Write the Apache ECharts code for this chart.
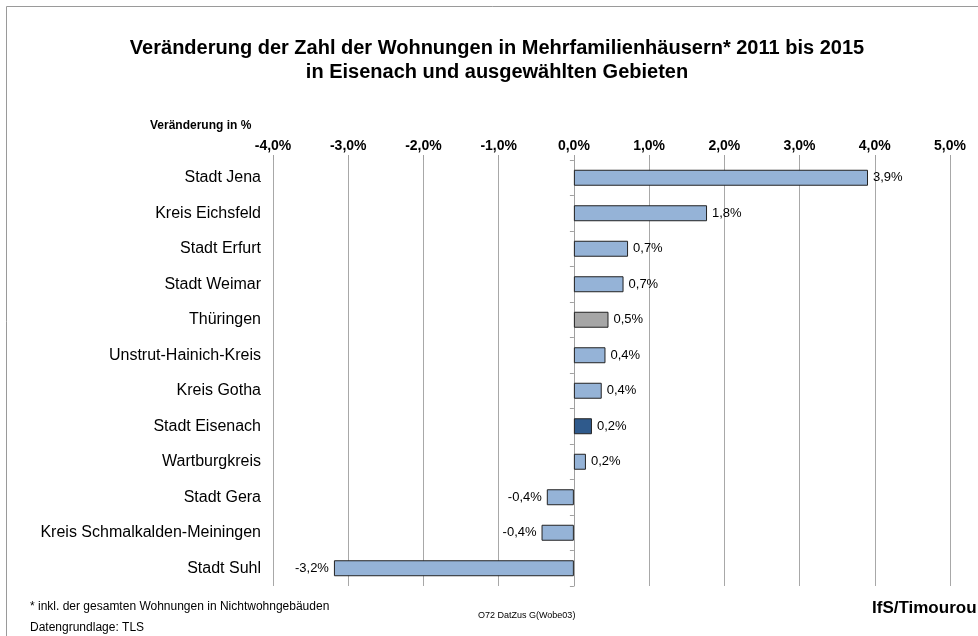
<!DOCTYPE html>
<html>
<head>
<meta charset="utf-8">
<script src="https://cdn.jsdelivr.net/npm/echarts@6/dist/echarts.min.js"></script>
<style>
  html, body { margin: 0; padding: 0; background: #fff; }
  #chart { width: 978px; height: 636px; }
</style>
</head>
<body>
<div id="chart"></div>
<script>
// Gebiete (von oben nach unten) und Veränderung in %
var gebiete = ['Stadt Jena', 'Kreis Eichsfeld', 'Stadt Erfurt', 'Stadt Weimar', 'Thüringen',
  'Unstrut-Hainich-Kreis', 'Kreis Gotha', 'Stadt Eisenach', 'Wartburgkreis', 'Stadt Gera',
  'Kreis Schmalkalden-Meiningen', 'Stadt Suhl'];
var veraenderung = [3.91, 1.77, 0.72, 0.66, 0.46, 0.42, 0.37, 0.24, 0.16, -0.36, -0.43, -3.19];
var xTicks = [-4, -3, -2, -1, 0, 1, 2, 3, 4, 5];

var FONT = 'Liberation Sans, Arial, sans-serif';

var fmt = function (v, d) {
  return v.toFixed(d).replace('.', ',') + '%';
};

// Farben: Thüringen grau, Eisenach dunkelblau, Rest hellblau
var farbe = function (name) {
  if (name === 'Thüringen') return '#a6a6a6';
  if (name === 'Stadt Eisenach') return '#2f5a8c';
  return '#95b3d7';
};

var myChart = echarts.init(document.getElementById('chart'));

var option = {
  backgroundColor: '#fff',
  animation: false,
  textStyle: { fontFamily: FONT },
  title: {
    text: 'Veränderung der Zahl der Wohnungen in Mehrfamilienhäusern* 2011 bis 2015\nin Eisenach und ausgewählten Gebieten',
    left: 492,
    textAlign: 'center',
    top: 31,
    textStyle: { fontSize: 20, fontWeight: 'bold', color: '#000', lineHeight: 24 }
  },
  grid: { left: 273, right: 28, top: 160, bottom: 50 },
  xAxis: {
    type: 'value',
    position: 'top',
    min: xTicks[0],
    max: xTicks[xTicks.length - 1],
    interval: 1,
    axisLine: { show: false },
    axisTick: { show: true, length: 5, lineStyle: { color: '#a0a0a0' } },
    axisLabel: {
      margin: 7,
      fontSize: 14,
      fontWeight: 'bold',
      color: '#000',
      formatter: function (v) { return fmt(v, 1); }
    },
    splitLine: { show: true, lineStyle: { color: '#a8a8a8', width: 1 } }
  },
  yAxis: [{
    type: 'category',
    inverse: true,
    data: gebiete,
    position: 'left',
    axisLine: { show: false },
    axisTick: { show: false },
    axisLabel: { margin: 12, fontSize: 16, color: '#000' }
  }, {
    type: 'category',
    inverse: true,
    data: gebiete,
    position: 'left',
    offset: 0,
    axisLine: { show: true, onZero: false, lineStyle: { color: '#a0a0a0' } },
    axisTick: { show: true, length: 4, lineStyle: { color: '#a0a0a0' } },
    axisLabel: { show: false }
  }],
  series: [{
    type: 'bar',
    yAxisIndex: 0,
    barWidth: '45%',
    data: veraenderung.map(function (v, i) {
      return {
        value: v,
        itemStyle: { color: farbe(gebiete[i]) },
        label: { position: v < 0 ? 'left' : 'right' }
      };
    }),
    itemStyle: { borderColor: '#222', borderWidth: 1 },
    label: {
      show: true,
      distance: 5,
      fontSize: 13,
      color: '#000',
      formatter: function (p) { return fmt(p.value, 1); }
    }
  }],
  graphic: [
    { type: 'rect', left: 4, top: 4, shape: { width: 990, height: 650 },
      style: { fill: 'none', stroke: '#9a9a9a', lineWidth: 1 }, silent: true },
    { type: 'text', left: 150, top: 120,
      style: { text: 'Veränderung in %', fontSize: 12, fontWeight: 'bold', fill: '#000', fontFamily: FONT } },
    { type: 'text', left: 30, top: 601,
      style: { text: '* inkl. der gesamten Wohnungen in Nichtwohngebäuden', fontSize: 12, fill: '#000', fontFamily: FONT } },
    { type: 'text', left: 30, top: 622,
      style: { text: 'Datengrundlage: TLS', fontSize: 12, fill: '#000', fontFamily: FONT } },
    { type: 'text', left: 478, top: 611,
      style: { text: 'O72 DatZus G(Wobe03)', fontSize: 9, fill: '#000', fontFamily: FONT } },
    { type: 'text', left: 872, top: 600,
      style: { text: 'IfS/Timourou', fontSize: 17, fontWeight: 'bold', fill: '#000', fontFamily: FONT } }
  ]
};

myChart.setOption(option);

// Null-Linie mit Teilstrichen: zweite Kategorieachse an die Stelle x = 0 schieben
var nullX = myChart.convertToPixel({ gridIndex: 0 }, [0, 0])[0];
var links = myChart.convertToPixel({ gridIndex: 0 }, [xTicks[0], 0])[0];
myChart.setOption({ yAxis: [{}, { offset: -(nullX - links) }] });
</script>
</body>
</html>
